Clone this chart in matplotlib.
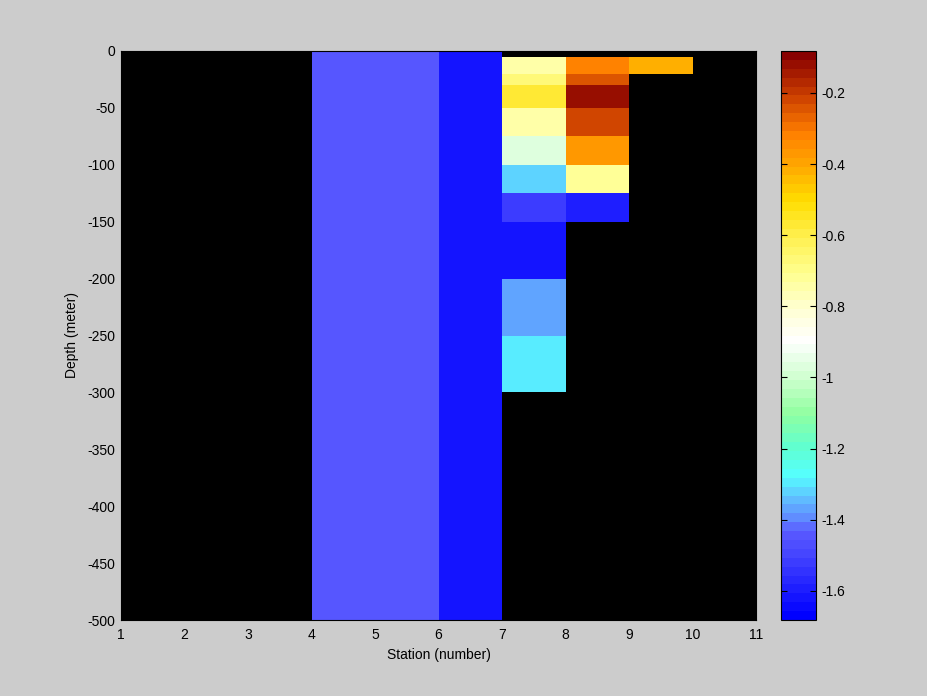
import numpy as np
import matplotlib
matplotlib.use("Agg")
import matplotlib.pyplot as plt
from matplotlib.colors import LinearSegmentedColormap

plt.rcParams['font.family'] = ['Liberation Sans', 'DejaVu Sans']
plt.rcParams['axes.unicode_minus'] = False

# Grid edges
station_edges = [1, 2, 3, 4, 5, 6, 7, 8, 9, 10, 11]
depth_edges = [0, -5, -20, -30, -50, -75, -100, -125, -150, -200, -250, -300, -500]

nan = np.nan
# Values per station cell (rows = depth cells top to bottom)
st1 = [nan] * 12
st2 = [nan] * 12
st3 = [nan] * 12
st4 = [-1.44] * 12
st5 = [-1.44] * 12
st6 = [-1.62] * 12
st7 = [nan, -0.75, -0.67, -0.58, -0.75, -0.96, -1.32, -1.53, -1.62, -1.38, -1.29, nan]
st8 = [nan, -0.31, -0.25, -0.13, -0.21, -0.37, -0.72, -1.59, nan, nan, nan, nan]
st9 = [nan, -0.42, nan, nan, nan, nan, nan, nan, nan, nan, nan, nan]
st10 = [nan] * 12

clim = (-1.682, -0.082)
cbar_ticks = [-1.6, -1.4, -1.2, -1.0, -0.8, -0.6, -0.4, -0.2]
cbar_ticklabels = ['-1.6', '-1.4', '-1.2', '-1', '-0.8', '-0.6', '-0.4', '-0.2']
xticks = list(range(1, 12))
yticks = list(range(-500, 1, 50))

anchors = [
    (0.00, '#0000ff'),
    (0.05, '#2020ff'),
    (0.114, '#4848ff'),
    (0.15, '#5a5aff'),
    (0.176, '#6090ff'),
    (0.21, '#60c0ff'),
    (0.25, '#55ffff'),
    (0.30, '#60ffd0'),
    (0.36, '#90ffa0'),
    (0.426, '#d0ffd0'),
    (0.49, '#ffffff'),
    (0.55, '#ffffd0'),
    (0.61, '#ffff90'),
    (0.676, '#fff050'),
    (0.74, '#ffdd00'),
    (0.80, '#ffaa00'),
    (0.86, '#ff8000'),
    (0.926, '#cc4000'),
    (1.00, '#880000'),
]
cmap = LinearSegmentedColormap.from_list('custom', anchors, N=64)
cmap.set_bad('black')

Z = np.array([st1, st2, st3, st4, st5, st6, st7, st8, st9, st10]).T
Z = np.ma.masked_invalid(Z)

fig = plt.figure(figsize=(9.28, 6.96), dpi=100, facecolor='#cccccc')
ax = fig.add_axes([121/928, 76/696, 635/928, 569/696])
ax.set_facecolor('black')
mesh = ax.pcolormesh(station_edges, depth_edges, Z, cmap=cmap, vmin=clim[0], vmax=clim[1])
ax.set_xlim(1, 11)
ax.set_ylim(-500, 0)
ax.set_xticks(xticks)
ax.set_yticks(yticks)
ax.tick_params(axis='y', direction='in', length=0, pad=4, labelsize=10, colors='black')
ax.tick_params(axis='x', direction='in', length=0, pad=6, labelsize=10, colors='black')
ax.set_xlabel('Station (number)', fontsize=10, labelpad=4)
ax.set_ylabel('Depth (meter)', fontsize=10, labelpad=6)

cax = fig.add_axes([781/928, 76/696, 35/928, 569/696])
cb = fig.colorbar(mesh, cax=cax)
cb.set_ticks(cbar_ticks)
cb.set_ticklabels(cbar_ticklabels)
cax.tick_params(direction='in', length=4, pad=4, labelsize=10, left=True, right=True)
cb.outline.set_edgecolor('black')

fig.savefig('out.png', dpi=100, facecolor=fig.get_facecolor())
